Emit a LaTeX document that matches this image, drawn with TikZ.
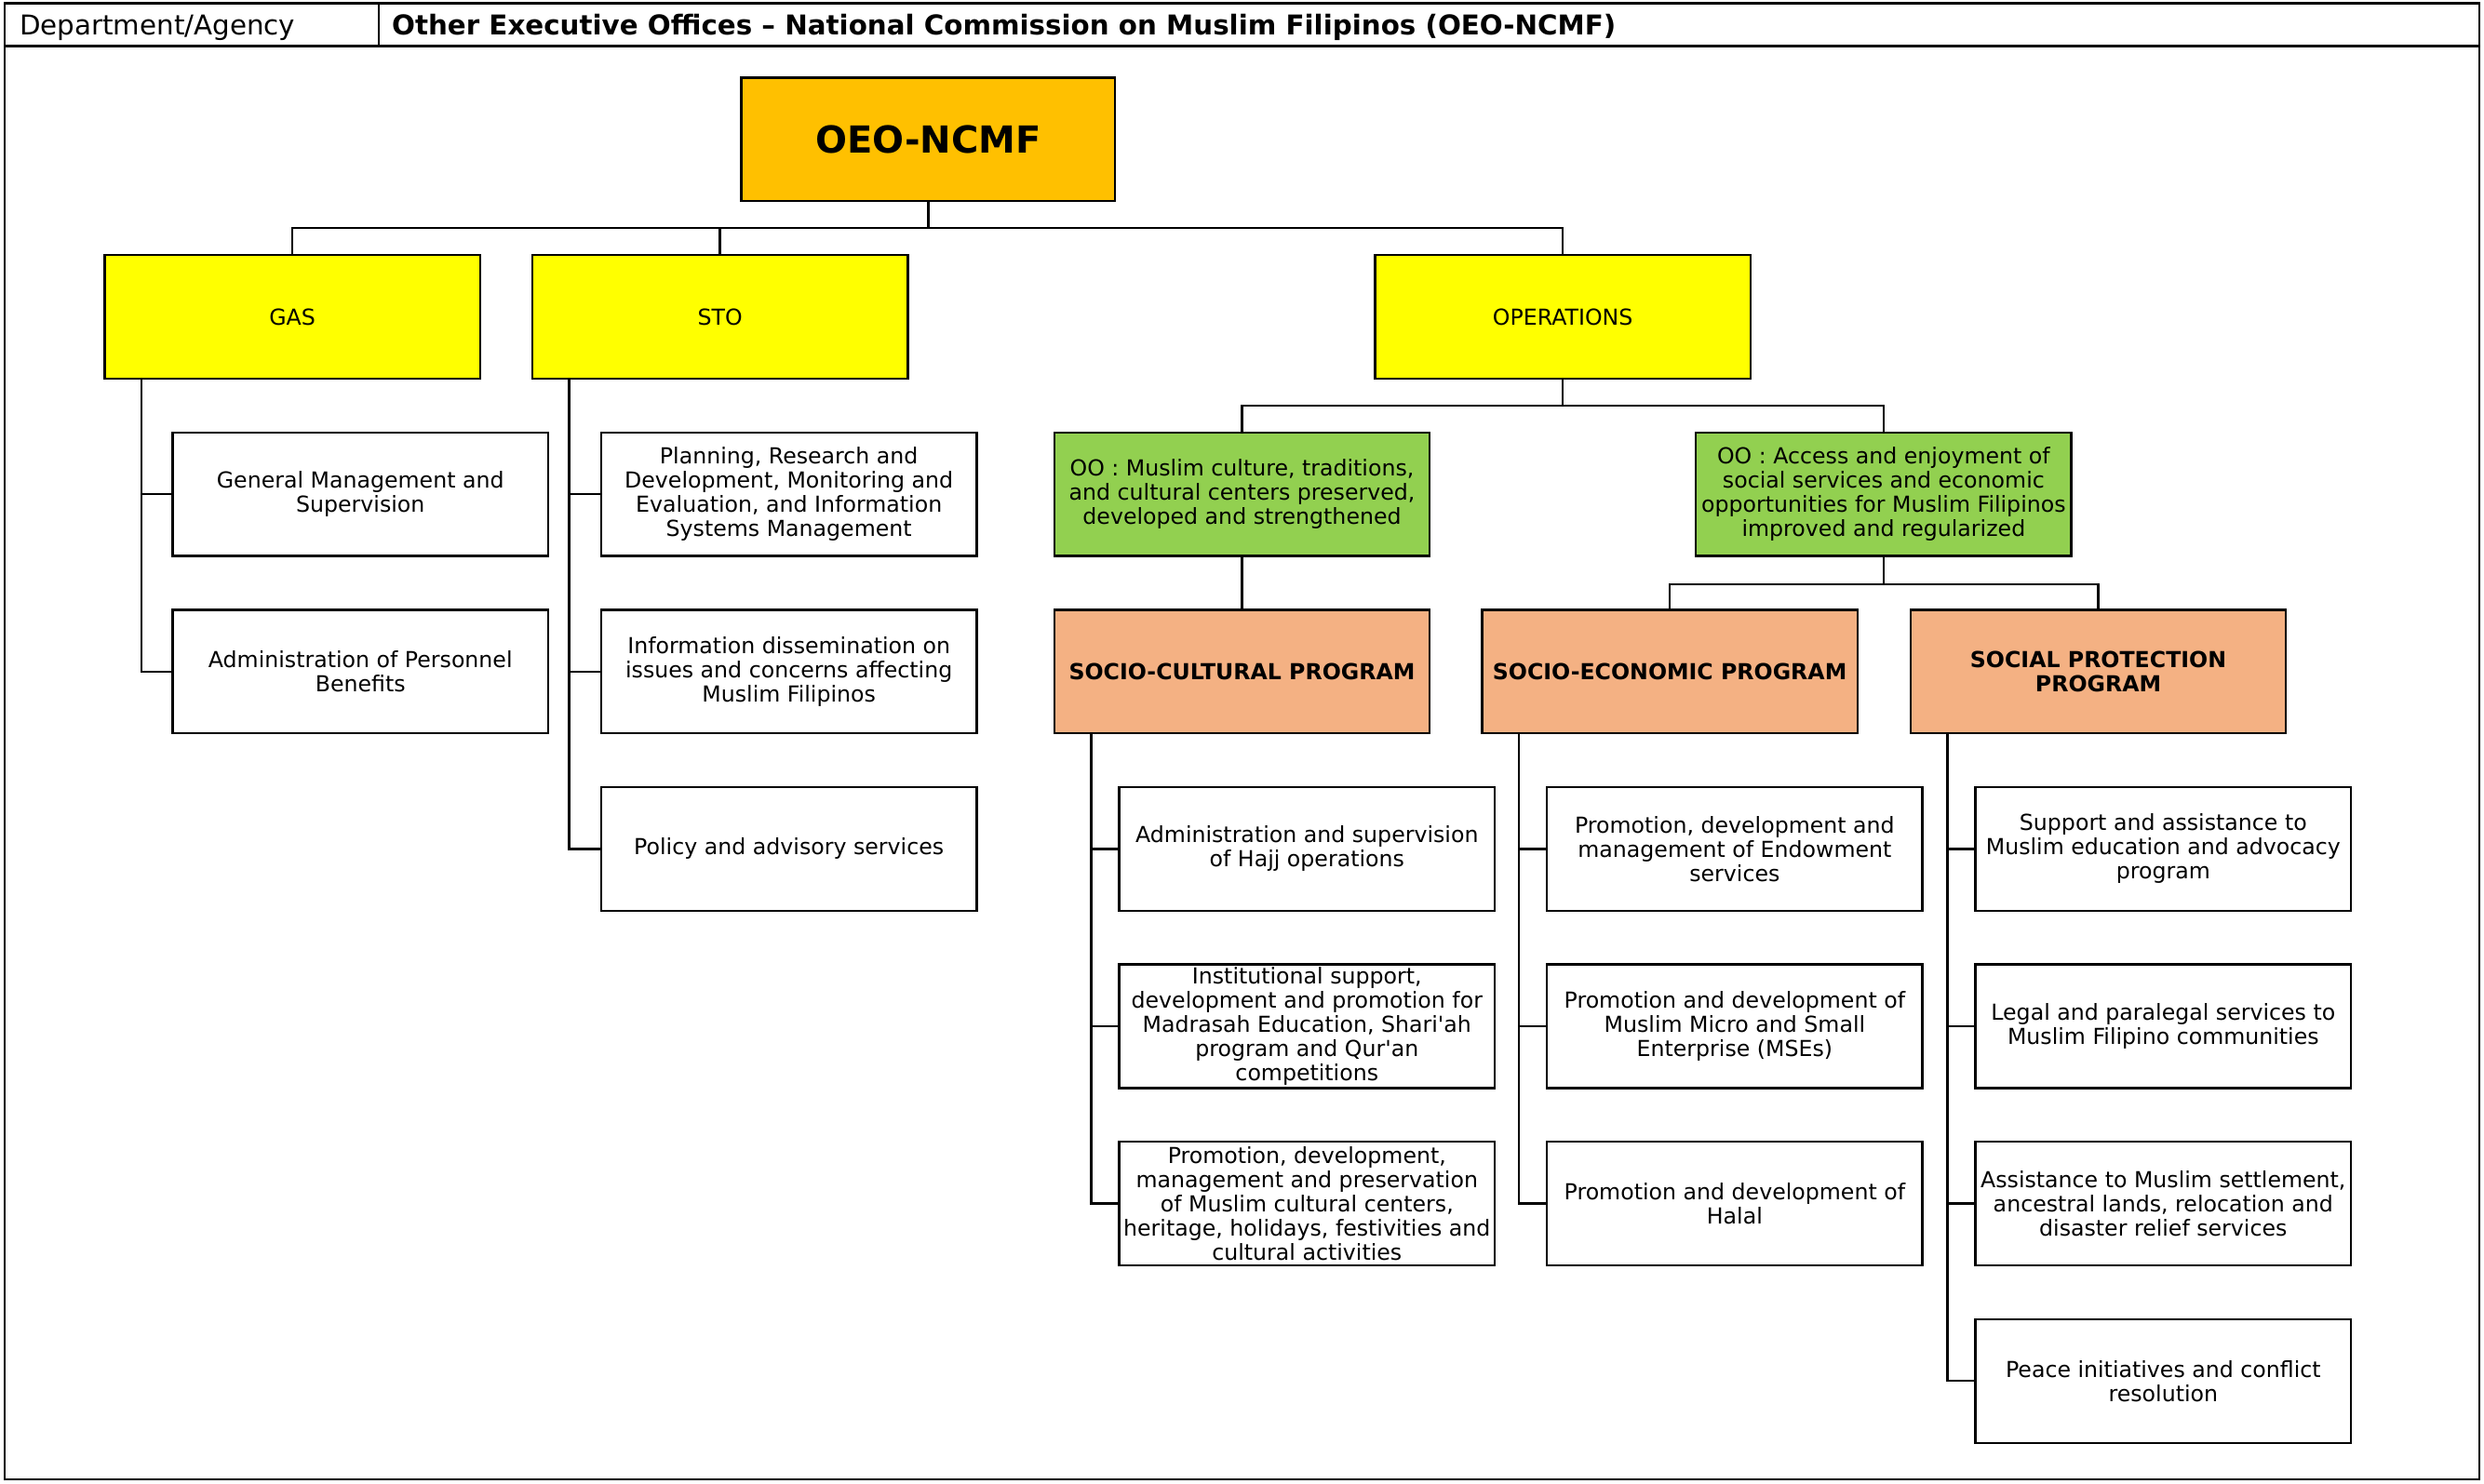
\documentclass[tikz,border=0pt]{standalone}
\usepackage{fontspec}
\setmainfont{DejaVu Sans}
\usetikzlibrary{calc}
\definecolor{gold}{HTML}{FFC000}
\definecolor{yel}{HTML}{FFFF00}
\definecolor{grn}{HTML}{92D050}
\definecolor{org}{HTML}{F4B183}
\tikzset{
  box/.style={draw=black, line width=0.7pt, minimum width=121.04pt, minimum height=39.83pt,
    inner sep=0pt, align=center, font=\fontsize{7.1}{7.8}\selectfont},
  unitbox/.style={box, fill=yel},
  oobox/.style={box, fill=grn},
  progbox/.style={box, fill=org, font=\fontsize{7.1}{7.8}\selectfont\bfseries},
  leaf/.style={box, fill=white},
  conn/.style={line width=0.7pt, black},
}
\begin{document}
\begin{tikzpicture}[x=0.5107pt, y=-0.5107pt]
\useasboundingbox (0,0) rectangle (1568,936.5);
% frame and header
\draw[line width=0.7pt] (3,2) rectangle (1565,934);
\draw[line width=0.7pt] (3,29) -- (1565,29);
\draw[line width=0.7pt] (239,2) -- (239,29);
\node[anchor=west, inner sep=0pt, font=\fontsize{8.8}{10}\selectfont] (hdl) at (12,17.5) {Department/Agency};
\node[anchor=west, inner sep=0pt, font=\fontsize{8.8}{10}\selectfont\bfseries] (hdr) at (247,17.5) {Other Executive Offices – National Commission on Muslim Filipinos (OEO-NCMF)};

% top
\node[box, fill=gold, minimum width=120.5pt, font=\fontsize{12}{14}\selectfont\bfseries] (top) at (586,88) {OEO-NCMF};
\node[unitbox] (gas) at (184.5,200) {GAS};
\node[unitbox] (sto) at (454.5,200) {STO};
\node[unitbox] (ops) at (986.5,200) {OPERATIONS};

\coordinate (bus1) at (0,144);
\draw[conn] (top.south) -- (top.south |- bus1);
\draw[conn] (gas.north) -- (gas.north |- bus1) -| (ops.north);
\draw[conn] (sto.north) -- (sto.north |- bus1);

% GAS children
\node[leaf] (g1) at (227.5,312) {General Management and\\Supervision};
\node[leaf] (g2) at (227.5,424) {Administration of Personnel\\Benefits};
\draw[conn] ($(gas.south west)+(24,0)$) |- (g2.west);
\draw[conn] (g1.west) -- ++(-19,0);

% STO children
\node[leaf] (s1) at (498,312) {Planning, Research and\\Development, Monitoring and\\Evaluation, and Information\\Systems Management};
\node[leaf] (s2) at (498,424) {Information dissemination on\\issues and concerns affecting\\Muslim Filipinos};
\node[leaf] (s3) at (498,536) {Policy and advisory services};
\draw[conn] ($(sto.south west)+(24,0)$) |- (s3.west);
\draw[conn] (s1.west) -- ++(-20,0);
\draw[conn] (s2.west) -- ++(-20,0);

% Operations
\node[oobox] (oo1) at (784,312) {OO : Muslim culture, traditions,\\and cultural centers preserved,\\developed and strengthened};
\node[oobox] (oo2) at (1189,312) {OO : Access and enjoyment of\\social services and economic\\opportunities for Muslim Filipinos\\improved and regularized};
\coordinate (bus2) at (0,256);
\draw[conn] (ops.south) -- (ops.south |- bus2);
\draw[conn] (oo1.north) -- (oo1.north |- bus2) -| (oo2.north);

\node[progbox] (sc) at (784,424) {SOCIO-CULTURAL PROGRAM};
\node[progbox] (se) at (1054,424) {SOCIO-ECONOMIC PROGRAM};
\node[progbox] (sp) at (1324.5,424) {SOCIAL PROTECTION\\PROGRAM};
\draw[conn] (oo1.south) -- (sc.north);
\coordinate (bus3) at (0,369);
\draw[conn] (oo2.south) -- (oo2.south |- bus3);
\draw[conn] (se.north) -- (se.north |- bus3) -| (sp.north);

% Socio-cultural children
\node[leaf] (c1) at (825,536) {Administration and supervision\\of Hajj operations};
\node[leaf] (c2) at (825,648) {Institutional support,\\development and promotion for\\Madrasah Education, Shari\textquotesingle ah\\program and Qur\textquotesingle an\\competitions};
\node[leaf] (c3) at (825,760) {Promotion, development,\\management and preservation\\of Muslim cultural centers,\\heritage, holidays, festivities and\\cultural activities};
\draw[conn] ($(sc.south west)+(24,0)$) |- (c3.west);
\draw[conn] (c1.west) -- ++(-17,0);
\draw[conn] (c2.west) -- ++(-17,0);

% Socio-economic children
\node[leaf] (e1) at (1095,536) {Promotion, development and\\management of Endowment\\services};
\node[leaf] (e2) at (1095,648) {Promotion and development of\\Muslim Micro and Small\\Enterprise (MSEs)};
\node[leaf] (e3) at (1095,760) {Promotion and development of\\Halal};
\draw[conn] ($(se.south west)+(24,0)$) |- (e3.west);
\draw[conn] (e1.west) -- ++(-17,0);
\draw[conn] (e2.west) -- ++(-17,0);

% Social protection children
\node[leaf] (p1) at (1365.5,536) {Support and assistance to\\Muslim education and advocacy\\program};
\node[leaf] (p2) at (1365.5,648) {Legal and paralegal services to\\Muslim Filipino communities};
\node[leaf] (p3) at (1365.5,760) {Assistance to Muslim settlement,\\ancestral lands, relocation and\\disaster relief services};
\node[leaf] (p4) at (1365.5,872) {Peace initiatives and conflict\\resolution};
\draw[conn] ($(sp.south west)+(24,0)$) |- (p4.west);
\draw[conn] (p1.west) -- ++(-17,0);
\draw[conn] (p2.west) -- ++(-17,0);
\draw[conn] (p3.west) -- ++(-17,0);
\end{tikzpicture}
\end{document}
